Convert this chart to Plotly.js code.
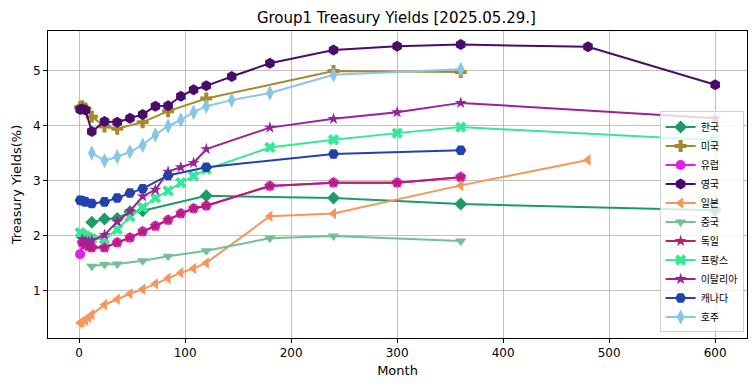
<!DOCTYPE html>
<html>
<head>
<meta charset="utf-8">
<script src="https://cdn.plot.ly/plotly-3.0.1.min.js"></script>
<style>html,body{margin:0;padding:0;background:#fff;}#chart{width:755px;height:391px;}</style>
</head>
<body>
<div id="chart"></div>
<script>
// ---- data ----
const seriesNames = ["한국","미국","유럽","영국","일본","중국","독일","프랑스","이탈리아","캐나다","호주"];

const monthsKR = [12,24,36,48,60,120,240,360,600];
const yieldKR  = [2.25,2.31,2.32,2.44,2.46,2.73,2.69,2.58,2.47];

const monthsUS = [1,3,6,12,24,36,60,84,120,240,360];
const yieldUS  = [4.34,4.36,4.32,4.17,3.99,3.95,4.07,4.27,4.50,5.00,4.98];

const monthsEU = [1,3,6,9,12,24,36,48,60,72,84,96,108,120,180,240,300,360];
const yieldEU  = [1.67,1.88,1.84,1.81,1.79,1.79,1.88,1.97,2.08,2.18,2.29,2.41,2.50,2.55,2.91,2.97,2.97,3.07];

const monthsUK = [1,3,6,12,24,36,48,60,72,84,96,108,120,144,180,240,300,360,480,600];
const yieldUK  = [4.30,4.31,4.29,3.90,4.08,4.07,4.14,4.21,4.36,4.37,4.54,4.66,4.73,4.90,5.14,5.38,5.45,5.48,5.44,4.75];

const monthsJP = [1,3,6,9,12,24,36,48,60,72,84,96,108,120,180,240,360,480];
const yieldJP  = [0.42,0.44,0.47,0.52,0.57,0.75,0.85,0.95,1.03,1.13,1.23,1.33,1.41,1.51,2.36,2.41,2.92,3.38];

const monthsCN = [12,24,36,60,84,120,180,240,360];
const yieldCN  = [1.45,1.48,1.49,1.55,1.63,1.73,1.96,2.00,1.91];

const monthsDE = [3,6,9,12,24,36,48,60,72,84,96,108,120,180,240,300,360];
const yieldDE  = [1.88,1.84,1.81,1.79,1.79,1.88,1.97,2.08,2.18,2.29,2.41,2.50,2.55,2.91,2.97,2.97,3.07];

const monthsFR = [1,3,6,9,12,24,36,48,60,72,84,96,108,120,180,240,300,360,600];
const yieldFR  = [2.06,2.03,2.00,1.97,1.95,1.94,2.12,2.35,2.52,2.69,2.82,2.97,3.09,3.21,3.61,3.75,3.87,3.98,3.74];

const monthsIT = [3,6,9,12,24,36,48,60,72,84,96,108,120,180,240,300,360,600];
const yieldIT  = [1.94,1.91,1.90,1.92,2.02,2.26,2.45,2.72,2.84,3.17,3.25,3.33,3.58,3.97,4.13,4.25,4.42,4.14];

const monthsCA = [1,3,6,12,24,36,48,60,84,120,240,360];
const yieldCA  = [2.65,2.64,2.62,2.59,2.62,2.69,2.78,2.86,3.10,3.25,3.49,3.56];

const monthsAU = [12,24,36,48,60,72,84,96,108,120,144,180,240,360];
const yieldAU  = [3.51,3.37,3.44,3.53,3.65,3.84,4.00,4.11,4.25,4.36,4.47,4.60,4.93,5.03];

const xTickVals = [0,100,200,300,400,500,600];
const yTickVals = [1,2,3,4,5];

// ---- styles ----
const allMonths = [monthsKR,monthsUS,monthsEU,monthsUK,monthsJP,monthsCN,monthsDE,monthsFR,monthsIT,monthsCA,monthsAU];
const allYields = [yieldKR,yieldUS,yieldEU,yieldUK,yieldJP,yieldCN,yieldDE,yieldFR,yieldIT,yieldCA,yieldAU];
const lineColors = ["#1b9b68","#a6892b","#dd22ee","#4a0c6b","#f5965a","#72c193","#b51f6c","#36e896","#9c2199","#2340b0","#88c6e6"];
const symbols = ["diamond","cross","circle","hexagon","triangle-left","triangle-down","star","x","star","hexagon2","diamond-tall"];
const sizes   = [10,10,10,11,10,10,9,10,9,11,11];

const traces = seriesNames.map((n,i)=>({
  type:"scatter", mode:"lines+markers", name:n,
  x: allMonths[i], y: allYields[i],
  line:{color:lineColors[i], width:2},
  marker:{symbol:symbols[i], color:lineColors[i], size:sizes[i], line:{width:0}}
}));

const baseFont = "DejaVu Sans, sans-serif";
const layout = {
  width:755, height:391,
  paper_bgcolor:"#ffffff", plot_bgcolor:"#ffffff",
  margin:{l:48, r:8, t:31, b:53},
  title:{text:"Group1 Treasury Yields [2025.05.29.]", font:{family:baseFont, size:15, color:"#000"}, x:0.525, xanchor:"center", y:0.955, yanchor:"middle"},
  showlegend:true,
  legend:{x:0.875, y:0.018, xanchor:"left", yanchor:"bottom",
    bgcolor:"rgba(255,255,255,0.8)", bordercolor:"#d0d0d0", borderwidth:1,
    font:{family:"Noto Sans CJK KR, sans-serif", size:10, color:"#000"},
    itemwidth:30, tracegroupgap:0},
  xaxis:{range:[-29.3,630], tickvals:xTickVals, ticks:"outside", ticklen:4, tickcolor:"#000",
    showline:true, mirror:true, linecolor:"#000", linewidth:1,
    showgrid:true, gridcolor:"#b0b0b0", gridwidth:0.8, zeroline:false,
    tickfont:{family:baseFont, size:12, color:"#000"},
    title:{text:"Month", font:{family:baseFont, size:13, color:"#000"}, standoff:6}},
  yaxis:{range:[0.145,5.727], tickvals:yTickVals, ticks:"outside", ticklen:4, tickcolor:"#000",
    showline:true, mirror:true, linecolor:"#000", linewidth:1,
    showgrid:true, gridcolor:"#b0b0b0", gridwidth:0.8, zeroline:false,
    tickfont:{family:baseFont, size:12, color:"#000"},
    title:{text:"Treasury Yields(%)", font:{family:baseFont, size:13, color:"#000"}, standoff:8}}
};

Plotly.newPlot("chart", traces, layout, {displayModeBar:false, staticPlot:true});
</script>
</body>
</html>
